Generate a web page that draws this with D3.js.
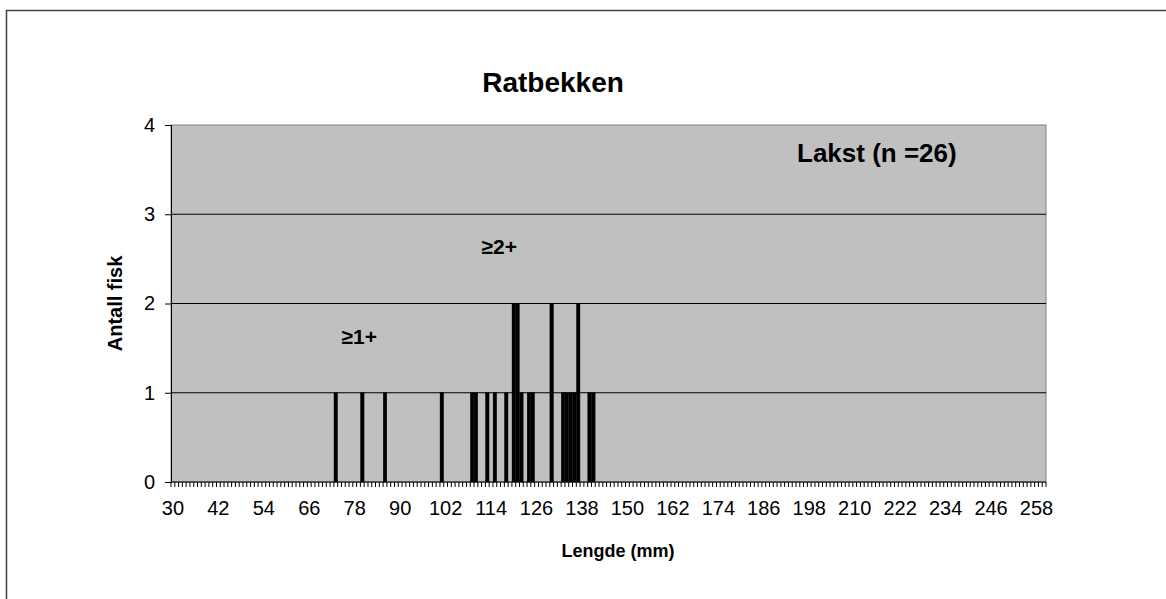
<!DOCTYPE html>
<html>
<head>
<meta charset="utf-8">
<script src="https://cdn.jsdelivr.net/npm/d3@7/dist/d3.min.js"></script>
<style>
  html, body { margin: 0; padding: 0; background: #fff; }
  svg { display: block; font-family: "Liberation Sans", Arial, sans-serif; }
</style>
</head>
<body>
<svg id="chart" width="1166" height="599"></svg>
<script>
// Length classes (mm), one category per millimetre
const lengthMin = 30;
const lengthMax = 260;
const categories = d3.range(lengthMin, lengthMax + 1);

// Number of salmon caught per length (mm)
const lengths = [73, 80, 86, 101, 109, 110, 113, 115, 118, 120, 121, 122, 124, 125, 130, 133, 134, 135, 136, 137, 140, 141];
const counts  = [1,  1,  1,  1,   1,   1,   1,   1,   1,   2,   2,   1,   1,   1,   2,   1,   1,   1,   1,   2,   1,   1];

// Axis ticks
const xTickLabels = d3.range(30, 259, 12);
const yTicks = [0, 1, 2, 3, 4];

// Text
const titleText = "Ratbekken";
const xTitle = "Lengde (mm)";
const yTitle = "Antall fisk";
const seriesNote = "Lakst (n =26)";
const ageNotes = [
  { text: "≥1+", len: 75, val: 1.55 },
  { text: "≥2+", len: 112, val: 2.55 }
];

const bars = lengths.map((l, i) => ({ len: l, n: counts[i] }));

const svg = d3.select("#chart");
const plot = { left: 171, top: 125, right: 1046, bottom: 482 };

// Outer chart frame
svg.append("rect")
  .attr("x", 6.5).attr("y", 10.5)
  .attr("width", 1170).attr("height", 620)
  .attr("fill", "#fff").attr("stroke", "#404040").attr("stroke-width", 1.5);

const x = d3.scaleBand()
  .domain(categories)
  .range([plot.left, plot.right])
  .paddingInner(0.06)
  .paddingOuter(0.03);

const xBand = d3.scaleBand().domain(categories).range([plot.left, plot.right]);

const y = d3.scaleLinear().domain([0, 4]).range([plot.bottom, plot.top]);

// Plot area background
svg.append("rect")
  .attr("x", plot.left).attr("y", plot.top)
  .attr("width", plot.right - plot.left).attr("height", plot.bottom - plot.top)
  .attr("fill", "#c0c0c0").attr("stroke", "#808080").attr("stroke-width", 1);

// Horizontal gridlines
svg.append("g")
  .selectAll("line")
  .data(yTicks.filter(t => t > 0 && t < 4))
  .join("line")
  .attr("x1", plot.left).attr("x2", plot.right)
  .attr("y1", d => y(d)).attr("y2", d => y(d))
  .attr("stroke", "#000").attr("stroke-width", 1);

// Bars
svg.append("g")
  .selectAll("rect")
  .data(bars)
  .join("rect")
  .attr("x", d => x(d.len))
  .attr("width", x.bandwidth())
  .attr("y", d => y(d.n))
  .attr("height", d => y(0) - y(d.n))
  .attr("fill", "#000")
  .attr("stroke", "#000")
  .attr("stroke-width", 0.4);

// X axis: a tick at every category boundary, labels every 12 mm
const xAxisG = svg.append("g");
const boundaries = categories.map(c => xBand(c)).concat([plot.right]);
xAxisG.selectAll("line.tick")
  .data(boundaries)
  .join("line")
  .attr("class", "tick")
  .attr("x1", d => d).attr("x2", d => d)
  .attr("y1", plot.bottom).attr("y2", plot.bottom + 5)
  .attr("stroke", "#000").attr("stroke-width", 1);
xAxisG.append("line")
  .attr("x1", plot.left).attr("x2", plot.right)
  .attr("y1", plot.bottom).attr("y2", plot.bottom)
  .attr("stroke", "#000").attr("stroke-width", 1);
xAxisG.selectAll("text")
  .data(xTickLabels)
  .join("text")
  .attr("x", d => xBand(d) + xBand.bandwidth() / 2)
  .attr("y", plot.bottom + 33)
  .attr("text-anchor", "middle")
  .attr("font-size", 20)
  .attr("fill", "#000")
  .text(d => d);

// Y axis
const yAxis = d3.axisLeft(y).tickValues(yTicks).tickSize(6).tickPadding(10).tickFormat(d3.format("d"));
const yAxisG = svg.append("g")
  .attr("transform", `translate(${plot.left},0)`)
  .call(yAxis);
yAxisG.select(".domain").attr("stroke", "#000");
yAxisG.selectAll(".tick line").attr("stroke", "#000");
yAxisG.selectAll(".tick text")
  .attr("font-size", 20)
  .attr("font-family", "Liberation Sans, Arial, sans-serif")
  .attr("fill", "#000");

// Titles
svg.append("text")
  .attr("x", 553).attr("y", 92)
  .attr("text-anchor", "middle")
  .attr("font-size", 28).attr("font-weight", "bold")
  .text(titleText);

svg.append("text")
  .attr("x", 618).attr("y", 557)
  .attr("text-anchor", "middle")
  .attr("font-size", 18).attr("font-weight", "bold")
  .text(xTitle);

svg.append("text")
  .attr("transform", `translate(122,${(plot.top + plot.bottom) / 2}) rotate(-90)`)
  .attr("text-anchor", "middle")
  .attr("font-size", 20).attr("font-weight", "bold")
  .text(yTitle);

// Series note and age-group notes inside the plot
svg.append("text")
  .attr("x", 797).attr("y", 162)
  .attr("font-size", 26).attr("font-weight", "bold")
  .text(seriesNote);

svg.append("g")
  .selectAll("text")
  .data(ageNotes)
  .join("text")
  .attr("x", d => xBand(d.len))
  .attr("y", d => y(d.val))
  .attr("font-size", 21).attr("font-weight", "bold")
  .text(d => d.text);
</script>
</body>
</html>
